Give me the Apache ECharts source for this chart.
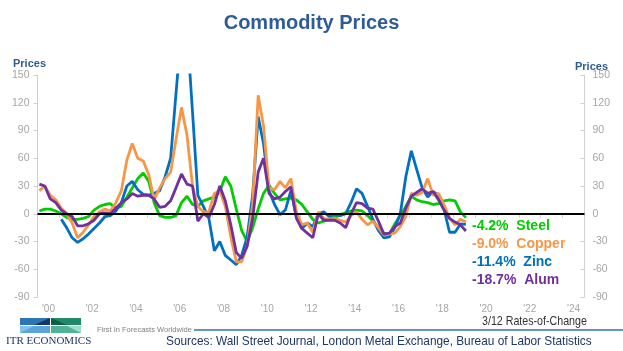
<!DOCTYPE html>
<html>
<head>
<meta charset="utf-8">
<script src="https://cdn.jsdelivr.net/npm/echarts@6/dist/echarts.min.js"></script>
<style>
html, body { margin: 0; padding: 0; background: #fff; }
#main { width: 623px; height: 351px; }
</style>
</head>
<body>
<div id="main"></div>
<script>
// quarterly samples (3/12 rates-of-change, %)
const dates = [
  '2000-02','2000-05','2000-08','2000-11', '2001-02','2001-05','2001-08','2001-11',
  '2002-02','2002-05','2002-08','2002-11', '2003-02','2003-05','2003-08','2003-11',
  '2004-02','2004-05','2004-08','2004-11', '2005-02','2005-05','2005-08','2005-11',
  '2006-02','2006-05','2006-08','2006-11', '2007-02','2007-05','2007-08','2007-11',
  '2008-02','2008-05','2008-08','2008-11', '2009-02','2009-05','2009-08','2009-11',
  '2010-02','2010-05','2010-08','2010-11', '2011-02','2011-05','2011-08','2011-11',
  '2012-02','2012-05','2012-08','2012-11', '2013-02','2013-05','2013-08','2013-11',
  '2014-02','2014-05','2014-08','2014-11', '2015-02','2015-05','2015-08','2015-11',
  '2016-02','2016-05','2016-08','2016-11', '2017-02','2017-05','2017-08','2017-11',
  '2018-02','2018-05','2018-08','2018-11', '2019-02','2019-05','2019-08'
];
const steel = [
  3, 5, 5, 3,  0, -4, -6, -6,  -5, -3, 4, 8,  10, 11, 6, 8,
  18, 28, 38, 44,  35, 12, -2, -4,  -4, -2, 12, 19,  10, 8, 14, 16,
  18, 24, 40, 30,  5, -18, -30, -15,  5, 22, 31, 22,  15, 16, 17, 15,
  10, 2, -6, -10,  -8, -6, -4, -1,  1, 3, 4, 3,  -2, -8, -15, -21,
  -22, -11, -2, 8,  19, 15, 13, 12,  10, 11, 14, 15,  14, 2, -4.2
];
const copper = [
  25, 30, 20, 15,  6, 0, -10, -26,  -20, -12, -3, 2,  5, 3, 12, 25,
  58, 76, 60, 57,  42, 15, 28, 38,  45, 80, 115, 85,  30, 8, 2, 2,
  22, 25, 8, -25,  -52, -52, -35, 10,  128, 95, 28, 26,  35, 28, 38, 2,
  -12, -10, -20, 2,  -5, -6, -5, -7,  -9, -2, 2, -6,  -12, -8, -15, -23,
  -22, -21, -14, -3,  22, 20, 23, 38,  20, 22, 10, -5,  -12, -6, -9
];
const zinc = [
  null, null, null, null,  -6, -15, -26, -31,  -27, -22, -16, -10,  -3, -2, 3, 12,
  30, 35, 26, 21,  20, 22, 25, 40,  60, 130, 200, 200,  110, 20, 8, -5,
  -40, -30, -45, -50,  -55, -45, -25, 20,  105, 76, 25, 10,  -1, 4, 25, -3,
  -16, -10, -14, 0,  2, -3, -1, -2,  0, 12, 27, 22,  8, -6, -18, -26,
  -25, -15, 0, 40,  68, 48, 28, 18,  24, 20, 5, -20,  -20, -11, -11.4
];
const alum = [
  32, 30, 16, 12,  4, 0, -3, -13,  -13, -11, -7, 0,  1, 0, 6, 12,
  16, 22, 19, 20,  20, 16, 7, 8,  14, 28, 43, 32,  30, -8, 0, -4,
  10, 30, 14, -12,  -42, -48, -35, -5,  45, 60, 22, 16,  18, 24, 29, -5,
  -16, -21, -26, 0,  -7, -7, -7, -10,  -15, 0, 12, 11,  6, 5, -8, -22,
  -21, -14, -10, 6,  19, 23, 27, 22,  24, 15, 4, -5,  -9, -12, -18.7
];
const years = ["'00","'01","'02","'03","'04","'05","'06","'07","'08","'09","'10","'11","'12",
  "'13","'14","'15","'16","'17","'18","'19","'20","'21","'22","'23","'24"];
const endLabels = ['-4.2%  Steel', '-9.0%  Copper', '-11.4%  Zinc', '-18.7%  Alum'];

const colors = ['#00CC00', '#F79646', '#0070C0', '#7030A0'];
const axisGray = '#D0D0D0';
const labelGray = '#A6A6A6';
const font = 'Liberation Sans, Arial, sans-serif';

function pairs(vals) {
  return dates.map((d, i) => [d, vals[i]]);
}

function yAxis(pos) {
  return {
    type: 'value', position: pos, min: -90, max: 150, interval: 30,
    axisLine: { show: true, lineStyle: { color: axisGray, width: 1 } },
    axisTick: { show: true, length: 4, inside: pos === 'right', lineStyle: { color: axisGray } },
    axisLabel: { color: labelGray, fontSize: 10.5, fontFamily: font, margin: 8 },
    splitLine: { show: false }
  };
}

function line(name, vals, color, extra) {
  return Object.assign({
    name: name, type: 'line', xAxisIndex: 0, yAxisIndex: 0,
    data: pairs(vals), showSymbol: false, symbol: 'none', clip: true,
    lineStyle: { color: color, width: 2.8 }, itemStyle: { color: color }
  }, extra || {});
}

const myChart = echarts.init(document.getElementById('main'));
myChart.setOption({
  backgroundColor: '#fff',
  animation: false,
  grid: { left: 37.5, right: 38.5, top: 75, bottom: 54 },
  xAxis: [
    {
      type: 'time', min: '2000-01-01', max: '2025-01-01', show: false
    },
    {
      type: 'category', data: years, boundaryGap: true, position: 'bottom',
      axisLine: { show: true, lineStyle: { color: axisGray } },
      axisTick: { show: true, interval: 0, alignWithLabel: false, length: 4, lineStyle: { color: axisGray } },
      axisLabel: { interval: 1, color: labelGray, fontSize: 10, fontFamily: font, margin: 7 },
      splitLine: { show: false }
    }
  ],
  yAxis: [yAxis('left'), yAxis('right')],
  series: [
    line('Steel', steel, colors[0], {
      markLine: {
        silent: true, symbol: 'none', label: { show: false },
        lineStyle: { color: '#000', width: 2, type: 'solid' },
        data: [{ yAxis: 0 }]
      }
    }),
    line('Zinc', zinc, colors[2]),
    line('Copper', copper, colors[1]),
    line('Alum', alum, colors[3])
  ],
  graphic: [
    { type: 'text', left: 'center', top: 13,
      style: { text: 'Commodity Prices', fill: '#2F5C97', font: 'bold 20px ' + font } },
    { type: 'text', x: 13, y: 58,
      style: { text: 'Prices', fill: '#2F5C97', font: 'bold 11px ' + font } },
    { type: 'text', x: 575, y: 61,
      style: { text: 'Prices', fill: '#2F5C97', font: 'bold 11px ' + font } },
    { type: 'text', x: 472, y: 219, style: { text: endLabels[0], fill: colors[0], font: 'bold 14px ' + font } },
    { type: 'text', x: 472, y: 237, style: { text: endLabels[1], fill: colors[1], font: 'bold 14px ' + font } },
    { type: 'text', x: 472, y: 255, style: { text: endLabels[2], fill: colors[2], font: 'bold 14px ' + font } },
    { type: 'text', x: 472, y: 273, style: { text: endLabels[3], fill: colors[3], font: 'bold 14px ' + font } },
    // logo blocks
    { type: 'rect', shape: { x: 20, y: 318, width: 30, height: 7 }, style: { fill: '#2E75B6' } },
    { type: 'rect', shape: { x: 20, y: 326, width: 30, height: 7 }, style: { fill: '#7EC3EA' } },
    { type: 'rect', shape: { x: 51, y: 318, width: 30, height: 7 }, style: { fill: '#1E8A66' } },
    { type: 'rect', shape: { x: 51, y: 326, width: 30, height: 7 }, style: { fill: '#9FDCCB' } },
    { type: 'polygon', shape: { points: [[34, 325], [50, 318], [50, 325]] }, style: { fill: '#17375E' } },
    { type: 'polygon', shape: { points: [[51, 318], [67, 325], [51, 325]] }, style: { fill: '#0F5E45' } },
    { type: 'polygon', shape: { points: [[20, 333], [34, 326], [50, 326], [50, 333]] }, style: { fill: '#5BA3D9' } },
    { type: 'polygon', shape: { points: [[51, 326], [67, 326], [81, 333], [51, 333]] }, style: { fill: '#52B394' } },
    { type: 'text', x: 6, y: 336,
      style: { text: 'ITR ECONOMICS', fill: '#1F3864', font: '11px Liberation Serif, Times New Roman, serif' } },
    { type: 'text', x: 97, y: 326,
      style: { text: 'First In Forecasts Worldwide', fill: '#808080', font: '7.5px ' + font } },
    { type: 'line', shape: { x1: 194, y1: 330, x2: 623, y2: 330 },
      style: { stroke: '#2E75B6', lineWidth: 1.5 } },
    { type: 'text', x: 482, y: 315, scaleX: 0.82, originX: 0,
      style: { text: '3/12 Rates-of-Change', fill: '#333', font: '13px ' + font } },
    { type: 'text', x: 166, y: 335, scaleX: 0.91, originX: 0,
      style: { text: 'Sources: Wall Street Journal, London Metal Exchange, Bureau of Labor Statistics',
        fill: '#1F3864', font: '13px ' + font } }
  ]
});
</script>
</body>
</html>
